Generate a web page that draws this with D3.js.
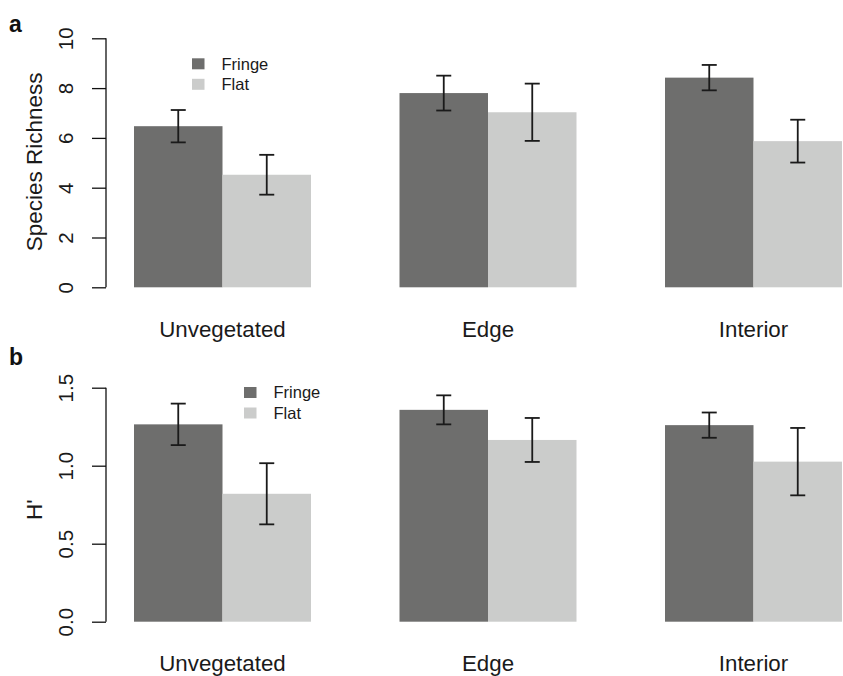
<!DOCTYPE html>
<html>
<head>
<meta charset="utf-8">
<script src="https://cdn.jsdelivr.net/npm/d3@7"></script>
<style>
  html, body { margin: 0; padding: 0; background: #fff; }
  svg { display: block; font-family: "Liberation Sans", Arial, Helvetica, sans-serif; }
</style>
</head>
<body>
<svg id="chart" width="843" height="676"></svg>
<script>
// Habitat categories along the x axis
const categories = ["Unvegetated", "Edge", "Interior"];
const seriesNames = ["Fringe", "Flat"];

// Panel a: species richness (mean and standard error)
const richnessFringe = [6.47, 7.80, 8.42];
const richnessFringeSE = [0.65, 0.70, 0.51];
const richnessFlat = [4.52, 7.03, 5.87];
const richnessFlatSE = [0.80, 1.15, 0.86];
const richnessTicks = [0, 2, 4, 6, 8, 10];

// Panel b: Shannon diversity H' (mean and standard error)
const diversityFringe = [1.265, 1.358, 1.26];
const diversityFringeSE = [0.133, 0.093, 0.081];
const diversityFlat = [0.82, 1.165, 1.026];
const diversityFlatSE = [0.196, 0.141, 0.216];
const diversityTicks = [0.0, 0.5, 1.0, 1.5];

const colors = ["#6e6e6d", "#cbcccb"];
const svg = d3.select("#chart");

// Bars sit on unit slots: group g occupies [1 + 3g, 3 + 3g], one empty slot between groups
const x = d3.scaleLinear().domain([1, 9]).range([134, 842]);

function drawPanel(cfg) {
  const g = svg.append("g");
  const y = d3.scaleLinear().domain(cfg.domain).range([cfg.bottom, cfg.top]);

  const rows = [];
  categories.forEach((c, i) => {
    rows.push({ cat: c, s: 0, v: cfg.fringe[i], se: cfg.fringeSE[i], x0: 1 + 3 * i });
    rows.push({ cat: c, s: 1, v: cfg.flat[i], se: cfg.flatSE[i], x0: 2 + 3 * i });
  });

  // bars
  g.selectAll("rect.bar").data(rows).enter().append("rect")
    .attr("class", "bar")
    .attr("x", d => x(d.x0))
    .attr("width", d => x(d.x0 + 1) - x(d.x0))
    .attr("y", d => y(d.v))
    .attr("height", d => y(0) - y(d.v))
    .attr("fill", d => colors[d.s]);

  // error bars
  const cap = 7.5;
  const eb = g.selectAll("g.err").data(rows).enter().append("g").attr("class", "err")
    .attr("stroke", "#1a1a1a").attr("stroke-width", 1.8);
  eb.append("line")
    .attr("x1", d => x(d.x0 + 0.5)).attr("x2", d => x(d.x0 + 0.5))
    .attr("y1", d => y(d.v + d.se)).attr("y2", d => y(d.v - d.se));
  eb.append("line")
    .attr("x1", d => x(d.x0 + 0.5) - cap).attr("x2", d => x(d.x0 + 0.5) + cap)
    .attr("y1", d => y(d.v + d.se)).attr("y2", d => y(d.v + d.se));
  eb.append("line")
    .attr("x1", d => x(d.x0 + 0.5) - cap).attr("x2", d => x(d.x0 + 0.5) + cap)
    .attr("y1", d => y(d.v - d.se)).attr("y2", d => y(d.v - d.se));

  // y axis
  const axis = d3.axisLeft(y).tickValues(cfg.ticks).tickSize(14).tickSizeOuter(0)
    .tickFormat(cfg.fmt);
  const ag = g.append("g").attr("transform", "translate(106,0)").call(axis);
  ag.select(".domain").attr("stroke", "#111").attr("stroke-width", 1.3)
    .attr("d", `M0,${y(cfg.ticks[0])}V${y(cfg.ticks[cfg.ticks.length - 1])}`);
  ag.selectAll(".tick line").attr("stroke", "#111").attr("stroke-width", 1.3);
  ag.selectAll(".tick text").remove();
  ag.selectAll(".tick").append("text")
    .attr("transform", "translate(-33,0) rotate(-90)")
    .attr("text-anchor", "middle")
    .attr("fill", "#1a1a1a")
    .attr("font-size", 20.5)
    .text(d => cfg.fmt(d));

  // y axis title
  g.append("text")
    .attr("transform", `translate(41.5,${(cfg.top + cfg.bottom) / 2 + cfg.titleShift}) rotate(-90)`)
    .attr("text-anchor", "middle")
    .attr("font-size", 22.5)
    .attr("fill", "#1a1a1a")
    .text(cfg.title);

  // category labels
  g.selectAll("text.cat").data(categories).enter().append("text")
    .attr("class", "cat")
    .attr("x", (d, i) => x(2 + 3 * i))
    .attr("y", cfg.catY)
    .attr("text-anchor", "middle")
    .attr("font-size", 22.3)
    .attr("fill", "#1a1a1a")
    .text(d => d);

  // panel letter
  g.append("text")
    .attr("x", 9).attr("y", cfg.letterY)
    .attr("font-size", 23).attr("font-weight", "bold").attr("fill", "#111")
    .text(cfg.letter);

  // legend
  const lg = g.append("g").attr("transform", `translate(${cfg.legX},${cfg.legY})`);
  seriesNames.forEach((name, i) => {
    lg.append("rect").attr("x", 0).attr("y", i * 20.5).attr("width", 12.5).attr("height", 11)
      .attr("fill", colors[i]);
    lg.append("text").attr("x", 29.5).attr("y", i * 20.5 + 11.2)
      .attr("font-size", 16.5).attr("fill", "#1a1a1a").text(name);
  });
}

drawPanel({
  domain: [0, 10], top: 38.3, bottom: 287.3, ticks: richnessTicks, fmt: d3.format("d"),
  fringe: richnessFringe, fringeSE: richnessFringeSE, flat: richnessFlat, flatSE: richnessFlatSE,
  title: "Species Richness", titleShift: -1, catY: 336.5, letter: "a", letterY: 31.5,
  legX: 192, legY: 58.3
});

drawPanel({
  domain: [0, 1.5], top: 387.7, bottom: 621.7, ticks: diversityTicks, fmt: d3.format(".1f"),
  fringe: diversityFringe, fringeSE: diversityFringeSE, flat: diversityFlat, flatSE: diversityFlatSE,
  title: "H'", titleShift: 5, catY: 671, letter: "b", letterY: 365,
  legX: 244, legY: 387
});
</script>
</body>
</html>
